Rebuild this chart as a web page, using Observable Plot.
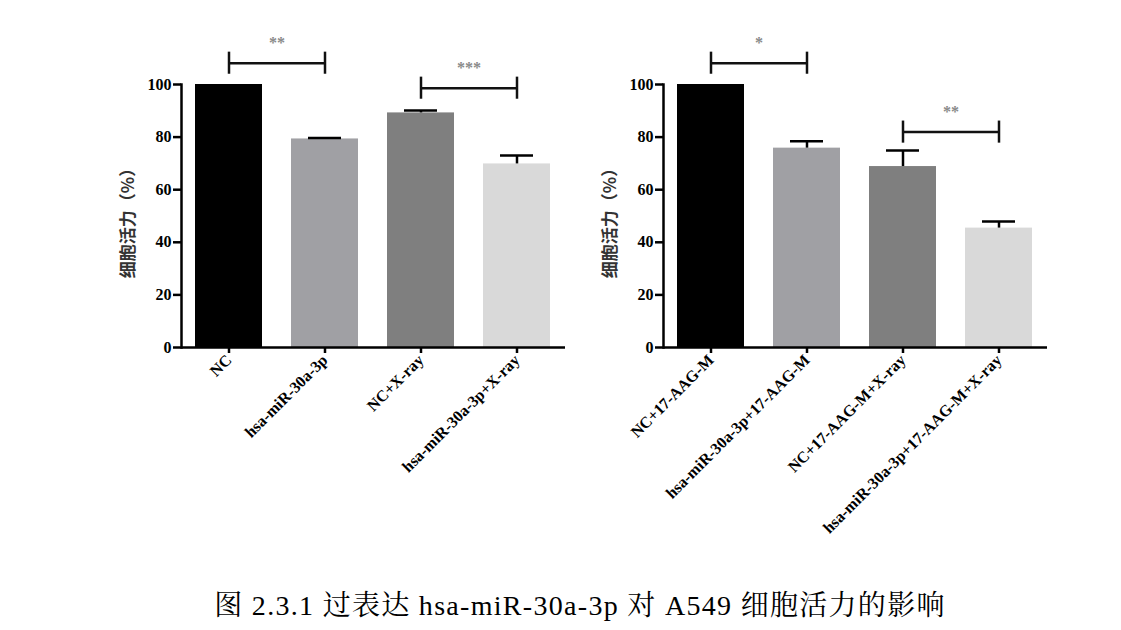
<!DOCTYPE html>
<html><head><meta charset="utf-8">
<script src="https://cdn.jsdelivr.net/npm/d3@7"></script>
<script src="https://cdn.jsdelivr.net/npm/@observablehq/plot@0.6"></script>
<style>
body{margin:0;background:#fff;width:1121px;height:630px;overflow:hidden;position:relative;font-family:"Liberation Serif",serif}
#left{position:absolute;left:60px;top:0}
#right{position:absolute;left:542px;top:0}
#caption{position:absolute;top:591px;left:0;width:1160px;text-align:center;font-size:28px;letter-spacing:1.3px;line-height:30px;font-family:"Liberation Serif","Noto Serif CJK SC","Noto Sans CJK SC",serif;color:#000}
</style></head><body>
<div id="left"></div><div id="right"></div>
<div id="caption">图 2.3.1 过表达 hsa-miR-30a-3p 对 A549 细胞活力的影响</div>
<script>
const groupsA = ["NC", "hsa-miR-30a-3p", "NC+X-ray", "hsa-miR-30a-3p+X-ray"];
const valuesA = [100, 79.3, 89.2, 69.8];
const errorsA = [0, 0.4, 0.9, 3.2];
const groupsB = ["NC+17-AAG-M", "hsa-miR-30a-3p+17-AAG-M", "NC+17-AAG-M+X-ray", "hsa-miR-30a-3p+17-AAG-M+X-ray"];
const valuesB = [100, 75.8, 68.8, 45.4];
const errorsB = [0, 2.6, 6.1, 2.5];
const barColors = ["#000000", "#a0a0a4", "#7f7f7f", "#d9d9d9"];
const yTicks = [0, 20, 40, 60, 80, 100];
const yLabel = "细胞活力（%）";
const bracketFromA = ["NC", "NC+X-ray"];
const bracketToA = ["hsa-miR-30a-3p", "hsa-miR-30a-3p+X-ray"];
const bracketLevelA = [108.1, 98.6];
const bracketStarsA = ["**", "***"];
const bracketFromB = ["NC+17-AAG-M", "NC+17-AAG-M+X-ray"];
const bracketToB = ["hsa-miR-30a-3p+17-AAG-M", "hsa-miR-30a-3p+17-AAG-M+X-ray"];
const bracketLevelB = [108.1, 81.9];
const bracketStarsB = ["*", "**"];

function panel(groups, values, errors, bFrom, bTo, bLevel, bStars) {
  const data = groups.map((g, i) => ({group: g, value: values[i], err: errors[i], color: barColors[i]}));
  const errData = data.filter(d => d.err > 0);
  const brackets = bFrom.map((f, i) => ({from: f, to: bTo[i], y: bLevel[i], label: bStars[i]}));
  const ends = brackets.flatMap(b => [{x: b.from, y: b.y}, {x: b.to, y: b.y}]);
  const tickHalf = 4.2;
  return Plot.plot({
    width: 515, height: 580,
    marginLeft: 121, marginRight: 10, marginTop: 84, marginBottom: 233,
    style: {fontFamily: "Liberation Serif, serif", background: "transparent", overflow: "visible", color: "#000"},
    x: {domain: groups, paddingInner: 0.3, paddingOuter: 0.136, label: null},
    y: {domain: [0, 100], label: null},
    marks: [
      Plot.barY(data, {x: "group", y: "value", fill: "color"}),
      Plot.ruleX(errData, {x: "group", y1: "value", y2: d => d.value + d.err, stroke: "#000", strokeWidth: 2.5}),
      Plot.tickY(errData, {x: "group", y: d => d.value + d.err, stroke: "#000", strokeWidth: 2.5, insetLeft: 17, insetRight: 17}),
      Plot.link(brackets, {x1: "from", x2: "to", y1: "y", y2: "y", stroke: "#111", strokeWidth: 2.5}),
      Plot.ruleX(ends, {x: "x", y1: d => d.y - tickHalf, y2: d => d.y + tickHalf, stroke: "#111", strokeWidth: 2.5}),
      Plot.text(brackets, {x: "from", y: "y", text: "label", dx: 48, dy: -20, fontSize: 16, fill: "#8a8a8a", fontWeight: "bold"}),
      Plot.axisY({ticks: yTicks, tickSize: 8, tickPadding: 2, fontSize: 16, fontWeight: "bold", strokeWidth: 2.5, label: null, tickFormat: d => d}),
      Plot.axisX({tickSize: 6, tickRotate: -45, fontSize: 16, fontWeight: "bold", strokeWidth: 2.5, tickPadding: 4, label: null}),
      Plot.frame({anchor: "left", strokeWidth: 2.5}),
      Plot.ruleY([0], {strokeWidth: 2.5}),
      Plot.text([yLabel], {frameAnchor: "left", textAnchor: "middle", rotate: -90, dx: -53, dy: 3, fontSize: 17, fontWeight: "bold", fill: "#333", fontFamily: "Noto Sans CJK SC"})
    ]
  });
}
document.getElementById("left").append(panel(groupsA, valuesA, errorsA, bracketFromA, bracketToA, bracketLevelA, bracketStarsA));
document.getElementById("right").append(panel(groupsB, valuesB, errorsB, bracketFromB, bracketToB, bracketLevelB, bracketStarsB));
</script>
</body></html>
